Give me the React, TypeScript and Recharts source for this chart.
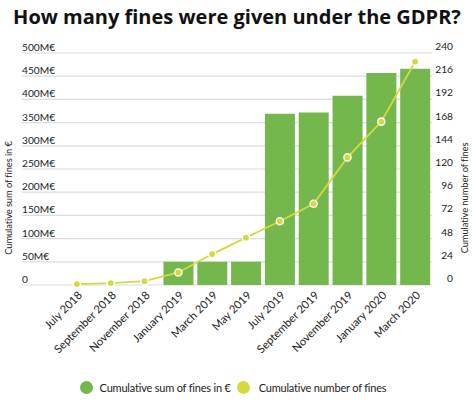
import React from 'react';
import { ComposedChart, Bar, Line, XAxis, YAxis, CartesianGrid, Legend } from 'recharts';

const months = [
  'July 2018',
  'September 2018',
  'November 2018',
  'January 2019',
  'March 2019',
  'May 2019',
  'July 2019',
  'September 2019',
  'November 2019',
  'January 2020',
  'March 2020',
];
// cumulative sum of fines, in million €
const sumOfFinesMEUR = [0, 0, 0, 50, 50, 50, 369, 372, 408, 457, 466];
// cumulative number of fines
const numberOfFines = [1, 2, 4, 13, 32, 49, 66, 84, 132, 169, 231];

const leftTicks = [0, 50, 100, 150, 200, 250, 300, 350, 400, 450, 500];
const rightTicks = [0, 24, 48, 72, 96, 120, 144, 168, 192, 216, 240];

const title = 'How many fines were given under the GDPR?';
const leftTitle = 'Cumulative sum of fines in €';
const rightTitle = 'Cumulative number of fines';
const sumLabel = 'Cumulative sum of fines in €';
const countLabel = 'Cumulative number of fines';

const data = months.map((m, i) => ({ month: m, sum: sumOfFinesMEUR[i], count: numberOfFines[i] }));

const W = 474;
const H = 402;
const TITLE_FONT = '"Open Sans", sans-serif';
const FONT = 'Lato, sans-serif';
const BAR = '#74b74d';
const LINE = '#d3da3e';
const TEXT = '#222';

const M_TOP = 53;
const LEFT_W = 22;
const RIGHT_W = 42;
const LEGEND_H = 30;
const XAXIS_H = 402 - 285 - LEGEND_H;

const LeftTick = (props: any) => {
  const { y, payload } = props;
  const v = payload.value;
  return (
    <text x={LEFT_W} y={y - 2} textAnchor="start" fontSize={10.2} fill={TEXT} fontFamily={FONT}>
      {v === 0 ? '0' : `${v}M€`}
    </text>
  );
};

const RightTick = (props: any) => {
  const { y, payload } = props;
  return (
    <text x={W - 21} y={y - 3} textAnchor="end" fontSize={10.2} fill={TEXT} fontFamily={FONT}>
      {payload.value}
    </text>
  );
};

const XTick = (props: any) => {
  const { x, y, payload } = props;
  return (
    <g transform={`translate(${x + 6},${y + 11})`}>
      <text x={0} y={0} textAnchor="end" transform="rotate(-45)" fontSize={11.2} fill={TEXT} fontFamily={FONT}>
        {payload.value}
      </text>
    </g>
  );
};

const LeftTitle = () => (
  <text
    transform="translate(12,198) rotate(-90)"
    textAnchor="middle"
    fontSize={9.4}
    letterSpacing={-0.1}
    fill={TEXT}
    fontFamily={FONT}
  >
    {leftTitle}
  </text>
);

const RightTitle = () => (
  <text
    transform={`translate(${W - 6},198) rotate(-90)`}
    textAnchor="middle"
    fontSize={9.4}
    letterSpacing={-0.1}
    fill={TEXT}
    fontFamily={FONT}
  >
    {rightTitle}
  </text>
);

const renderLegend = () => (
  <div
    style={{
      display: 'flex',
      justifyContent: 'center',
      alignItems: 'center',
      height: LEGEND_H,
      fontFamily: FONT,
      fontSize: 11,
      letterSpacing: -0.2,
      color: TEXT,
      paddingRight: 8,
    }}
  >
    <svg width={13} height={13} style={{ marginRight: 7 }}>
      <circle cx={6.5} cy={6.5} r={6.5} fill={BAR} />
    </svg>
    <span style={{ marginRight: 6 }}>{sumLabel}</span>
    <svg width={13} height={13} style={{ marginRight: 9 }}>
      <circle cx={6.5} cy={6.5} r={6.5} fill={LINE} />
    </svg>
    <span>{countLabel}</span>
  </div>
);

export default function App() {
  return (
    <div style={{ position: 'absolute', left: 0, top: 0, width: W, height: H, background: '#fff' }}>
      <div
        style={{
          position: 'absolute',
          left: 0,
          top: 3,
          width: W,
          textAlign: 'center',
          fontFamily: TITLE_FONT,
          fontWeight: 700,
          fontSize: 20,
          color: '#111',
          whiteSpace: 'nowrap',
        }}
      >
        {title}
      </div>
      <ComposedChart
        width={W}
        height={H}
        data={data}
        margin={{ top: M_TOP, left: 0, right: 0, bottom: 0 }}
        barCategoryGap={2}
      >
        <CartesianGrid horizontal vertical={false} stroke="#dcdcdc" strokeWidth={1.2} yAxisId="left" />
        <XAxis
          dataKey="month"
          interval={0}
          height={XAXIS_H}
          tickSize={0}
          tickMargin={0}
          tickLine={false}
          axisLine={false}
          padding={{ left: 38, right: 0 }}
          tick={<XTick />}
        />
        <YAxis
          yAxisId="left"
          orientation="left"
          width={LEFT_W}
          domain={[0, 500]}
          ticks={leftTicks}
          tickSize={0}
          tickMargin={0}
          tickLine={false}
          axisLine={false}
          tick={<LeftTick />}
          label={<LeftTitle />}
        />
        <YAxis
          yAxisId="right"
          orientation="right"
          width={RIGHT_W}
          domain={[0, 240]}
          ticks={rightTicks}
          tickSize={0}
          tickMargin={0}
          tickLine={false}
          axisLine={false}
          tick={<RightTick />}
          label={<RightTitle />}
        />
        <Legend verticalAlign="bottom" align="center" height={LEGEND_H} content={renderLegend} />
        <Bar yAxisId="left" dataKey="sum" fill={BAR} isAnimationActive={false} />
        <Line
          yAxisId="right"
          dataKey="count"
          type="linear"
          stroke={LINE}
          strokeWidth={1.8}
          dot={{ r: 3.6, fill: LINE, stroke: '#fff', strokeWidth: 1.4 }}
          activeDot={false}
          isAnimationActive={false}
        />
      </ComposedChart>
    </div>
  );
}
